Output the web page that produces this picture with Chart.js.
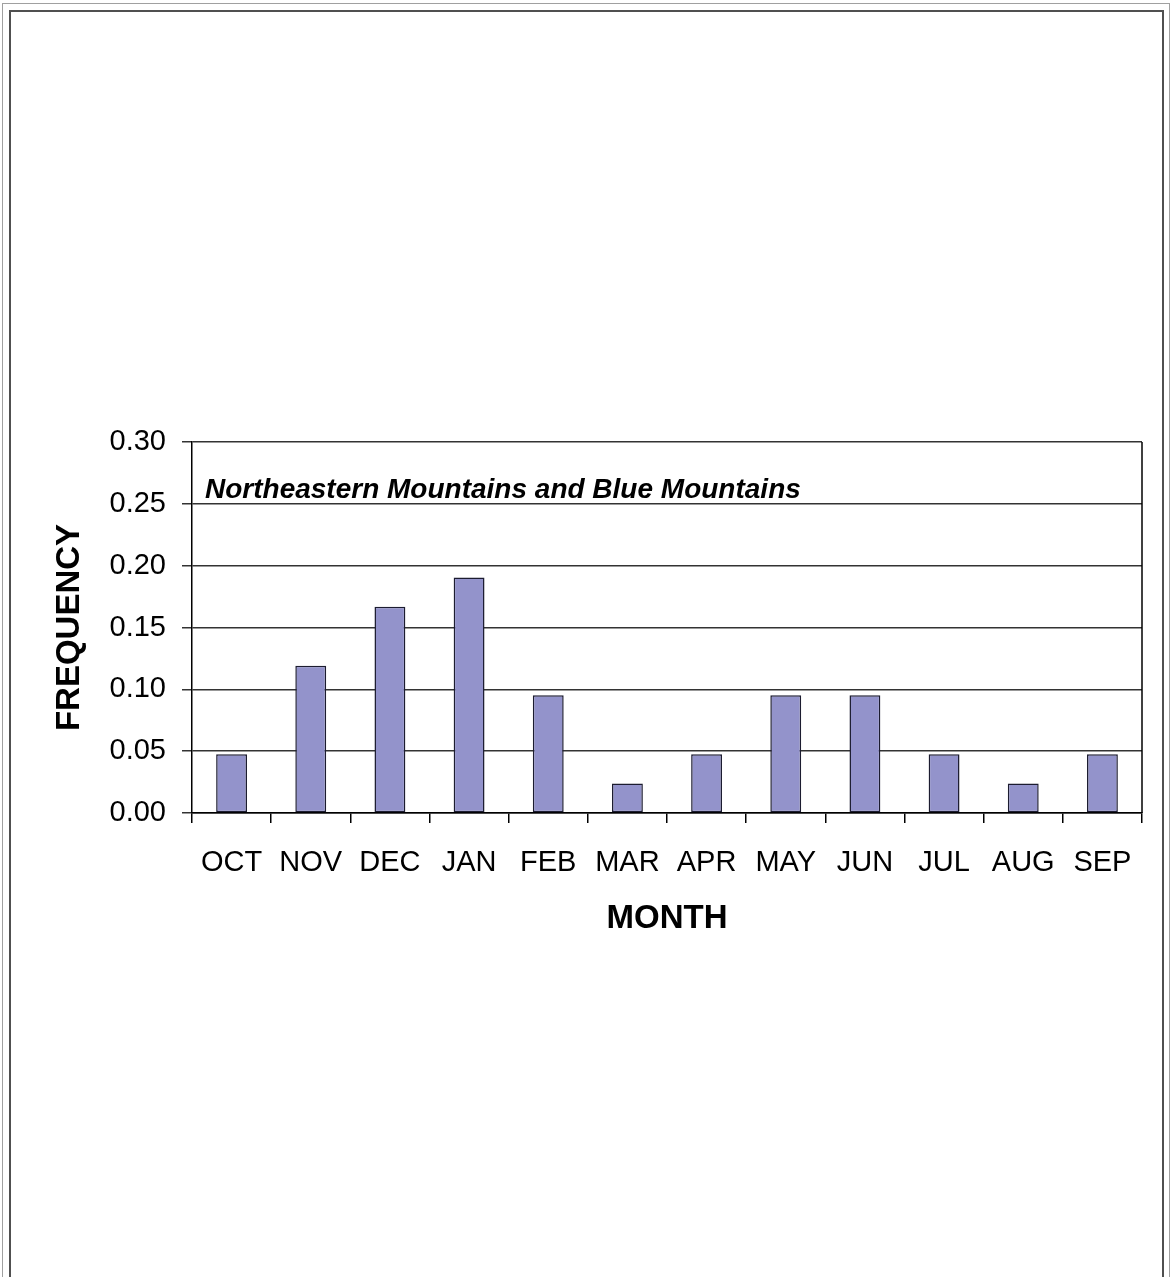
<!DOCTYPE html>
<html>
<head>
<meta charset="utf-8">
<script src="https://cdn.jsdelivr.net/npm/chart.js@4"></script>
<style>
  html, body { margin: 0; padding: 0; background: #fff; overflow: hidden; }
  #page { position: relative; width: 1170px; height: 1277px; }
  .frame-outer { position: absolute; left: 2px; top: 3px; width: 1166px; height: 1400px; border: 1px solid #a0a0a0; }
  .frame-inner { position: absolute; left: 9px; top: 10px; width: 1151px; height: 1400px; border: 2px solid #505050; }
  #my-chart { position: absolute; left: 0; top: 0; }
</style>
</head>
<body>
<div id="page">
  <div class="frame-outer"></div>
  <div class="frame-inner"></div>
  <canvas id="my-chart" width="1170" height="1277"></canvas>
</div>
<script>
// monthly frequency (water year, Oct - Sep)
const months = ['OCT', 'NOV', 'DEC', 'JAN', 'FEB', 'MAR', 'APR', 'MAY', 'JUN', 'JUL', 'AUG', 'SEP'];
const frequency = [0.0476, 0.119, 0.1667, 0.1905, 0.0952, 0.0238, 0.0476, 0.0952, 0.0952, 0.0476, 0.0238, 0.0476];
const yTicks = [0, 0.05, 0.10, 0.15, 0.20, 0.25, 0.30];
const regionName = 'Northeastern Mountains and Blue Mountains';

const FONT = "'Liberation Sans', Arial, sans-serif";

// right border of the plot + region label inside the plot
const plotExtras = {
	id: 'plotExtras',
	afterDraw(chart) {
		const { ctx, chartArea } = chart;
		ctx.save();
		ctx.strokeStyle = '#000';
		ctx.lineWidth = 1.5;
		ctx.beginPath();
		ctx.moveTo(chartArea.right, chartArea.top);
		ctx.lineTo(chartArea.right, chartArea.bottom);
		ctx.stroke();
		ctx.fillStyle = '#000';
		ctx.font = 'italic bold 28px ' + FONT;
		ctx.textBaseline = 'alphabetic';
		ctx.textAlign = 'left';
		ctx.fillText(regionName, chartArea.left + 13, 498);
		ctx.restore();
	}
};

const ctx = document.getElementById('my-chart').getContext('2d');
const myChart = new Chart(ctx, {
	type: 'bar',
	data: {
		labels: months,
		datasets: [{
			label: 'Frequency',
			data: frequency,
			backgroundColor: '#9393CB',
			borderColor: '#1c1c30',
			borderWidth: 1.5,
			borderSkipped: false,
			categoryPercentage: 1,
			barPercentage: 0.39
		}]
	},
	options: {
		responsive: false,
		animation: false,
		layout: {
			padding: { left: 0, top: 442, right: 28, bottom: 1277 - 813 - 140 }
		},
		plugins: {
			legend: { display: false },
			tooltip: { enabled: false }
		},
		scales: {
			x: {
				afterFit: (scale) => { scale.height = 140; },
				grid: {
					display: true,
					drawOnChartArea: false,
					drawTicks: true,
					tickLength: 10,
					color: '#000',
					lineWidth: 1.5
				},
				border: { display: true, color: '#000', width: 1.5 },
				ticks: {
					color: '#000',
					padding: 23,
					font: { family: FONT, size: 29 },
					maxRotation: 0
				},
				title: {
					display: true,
					text: 'MONTH',
					color: '#000',
					font: { family: FONT, size: 33, weight: 'bold' },
					padding: { top: 0, bottom: 14 }
				}
			},
			y: {
				min: 0,
				max: 0.3,
				afterFit: (scale) => { scale.width = 192; },
				afterBuildTicks: (scale) => { scale.ticks = yTicks.map(v => ({ value: v })); },
				grid: {
					color: '#333',
					lineWidth: 1.5,
					tickLength: 10,
					drawTicks: true
				},
				border: { display: true, color: '#000', width: 1.5 },
				ticks: {
					color: '#000',
					padding: 16,
					font: { family: FONT, size: 29 },
					callback: (v) => Number(v).toFixed(2)
				},
				title: {
					display: true,
					text: 'FREQUENCY',
					color: '#000',
					font: { family: FONT, size: 33, weight: 'bold' },
					padding: { top: 50, bottom: 0 }
				}
			}
		}
	},
	plugins: [plotExtras]
});
</script>
</body>
</html>
